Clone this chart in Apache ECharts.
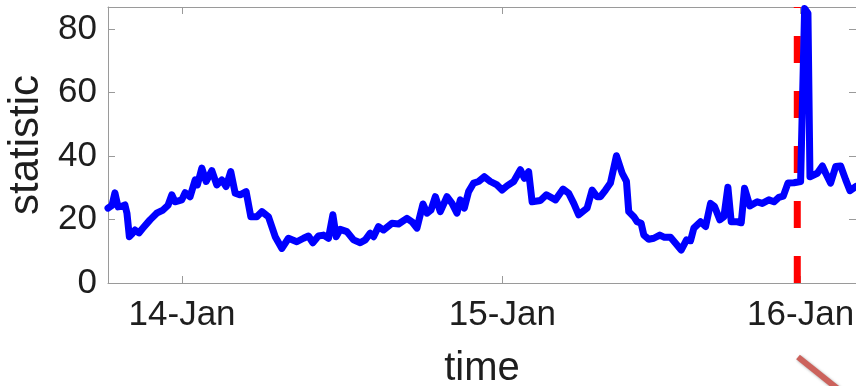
<!DOCTYPE html>
<html>
<head>
<meta charset="utf-8">
<script src="https://cdn.jsdelivr.net/npm/echarts@6/dist/echarts.min.js"></script>
<style>
  html, body { margin: 0; padding: 0; background: #fff; }
  #chart { width: 856px; height: 386px; }
</style>
</head>
<body>
<div id="chart"></div>
<script>
// hours since 14-Jan 00:00
var hours = [-5.55, -5.25, -5.03, -4.8, -4.5, -4.28, -4.13, -3.95, -3.75, -3.53, -3.23, -2.93, -2.4, -1.9, -1.43, -1.05, -0.77, -0.53, -0.02,
  0.23, 0.6, 0.98, 1.15, 1.48, 1.8, 2.23, 2.6, 2.98, 3.3, 3.65, 3.98, 4.35, 4.8, 5.15, 5.6, 5.98, 6.47, 6.98, 7.48, 7.97,
  8.6, 9.1, 9.47, 9.8, 10.22, 10.6, 10.97, 11.3, 11.55, 11.85, 12.35, 12.85, 13.35, 13.73, 14.1, 14.35, 14.72, 15.1, 15.73, 16.22,
  16.85, 17.23, 17.6, 18.05, 18.35, 18.65, 18.98, 19.35, 19.85, 20.23, 20.6, 20.85, 21.15, 21.47, 21.85, 22.22, 22.65, 23.1, 23.6, 23.98,
  24.35, 24.85, 25.35, 25.65, 25.97, 26.23, 26.85, 27.3, 27.98, 28.55, 28.97, 29.35, 29.72, 30.35, 30.73, 31.1, 31.35, 31.73, 32.1, 32.55,
  32.98, 33.3, 33.47, 33.85, 34.1, 34.4, 34.6, 34.97, 35.35, 35.8, 36.15, 36.6, 36.98, 37.4, 37.8, 38.1, 38.35, 38.85, 39.23, 39.6,
  39.9, 40.3, 40.6, 40.9, 41.15, 41.6, 41.9, 42.15, 42.55, 43.1, 43.48, 43.97, 44.35, 44.72, 45.05, 45.4, 45.85, 46.35, 46.65, 46.9,
  47.05, 47.6, 47.98, 48.23, 48.6, 48.98, 49.35, 49.73, 50.05, 50.48];
var statistic = [23.6, 24.5, 28.4, 24.0, 24.2, 24.6, 22, 14.6, 15.5, 16.7, 15.8, 17.3, 19.9, 22, 23, 24.5, 27.8, 25.6, 26.2,
  28.5, 27.2, 32.5, 30.9, 36.2, 32, 35.4, 30.9, 32.5, 30.4, 35.1, 28.3, 27.8, 28.8, 20.9, 20.9, 22.5, 20.9, 14.6, 10.9, 14.1,
  13, 14.1, 14.8, 12.7, 14.8, 15.1, 14.1, 21.5, 14.6, 16.9, 16.2, 13.6, 12.7, 13.6, 15.7, 14.6, 17.8, 16.7, 18.8, 18.6,
  20.4, 19.3, 17.3, 24.9, 22, 23, 27.2, 22.5, 27.2, 25.1, 22, 26.2, 23.6, 28.8, 31.5, 32, 33.5, 32, 30.9, 29.3,
  30.6, 32, 35.7, 33, 35.1, 25.6, 26, 27.8, 26.2, 29.6, 28.3, 25.1, 21.5, 23.6, 29.3, 27.2, 27.2, 29.3, 31.5, 40.1,
  34.6, 32, 22.5, 20.9, 19.3, 18.8, 15.1, 13.8, 14.1, 15.1, 14.4, 14.4, 12.5, 10.4, 13.6, 13.3, 17.3, 19.3, 17.8, 25.1,
  24.1, 19.9, 20.9, 30.2, 19.3, 19.3, 19, 29.9, 24.3, 25.6, 25.1, 26.2, 25.6, 27, 27.4, 31.5, 31.6, 32, 86.5, 85,
  33.5, 34.6, 36.9, 34.6, 31.5, 36.7, 36.9, 32.5, 29.1, 30.4];

var dayTicks = [0, 24, 46.35];
var dayLabels = ['14-Jan', '15-Jan', '16-Jan'];
var yTicks = [0, 20, 40, 60, 80];
var changePoint = 46.1;

var FONT = 'Liberation Sans';
var AXIS = '#9a9a9a';
var TEXT = '#1e1e1e';

var lineData = hours.map(function (h, i) { return [h, statistic[i]]; });

function boxAxis(pos, min, max, ticks) {
  return {
    type: 'value', position: pos, min: min, max: max,
    axisLine: { show: true, onZero: false, lineStyle: { color: AXIS, width: 1 } },
    axisTick: { show: true, inside: true, length: 7, customValues: ticks, lineStyle: { color: AXIS } },
    axisLabel: { show: false },
    splitLine: { show: false }
  };
}

var xBottom = boxAxis('bottom', -5.55, 50.5, dayTicks);
xBottom.name = 'time';
xBottom.nameLocation = 'middle';
xBottom.nameGap = 66;
xBottom.nameTextStyle = { fontFamily: FONT, fontSize: 40, color: TEXT };
xBottom.axisLabel = {
  show: true, customValues: dayTicks, margin: 15, fontFamily: FONT, fontSize: 35, color: TEXT,
  formatter: function (v) { var i = dayTicks.indexOf(v); return i < 0 ? '' : dayLabels[i]; }
};

var yLeft = boxAxis('left', 0, 87, yTicks);
yLeft.name = 'statistic';
yLeft.nameLocation = 'middle';
yLeft.nameGap = 48;
yLeft.nameTextStyle = { fontFamily: FONT, fontSize: 42, color: TEXT };
yLeft.axisLabel = { show: true, customValues: yTicks, margin: 11, fontFamily: FONT, fontSize: 35, color: TEXT };

var chart = echarts.init(document.getElementById('chart'));
chart.setOption({
  animation: false,
  backgroundColor: '#fff',
  grid: { left: 108, right: 0, top: 7, bottom: 103, containLabel: false, outerBoundsMode: 'none' },
  xAxis: [xBottom, boxAxis('top', -5.55, 50.5, dayTicks)],
  yAxis: [yLeft, boxAxis('right', 0, 87, yTicks)],
  series: [{
    name: 'change',
    type: 'line',
    xAxisIndex: 0, yAxisIndex: 0,
    data: [[changePoint, 0], [changePoint, 87]],
    showSymbol: false, symbol: 'none',
    lineStyle: { color: '#ff0000', width: 7, type: [27, 28], cap: 'butt' },
    silent: true
  }, {
    name: 'statistic',
    type: 'line',
    xAxisIndex: 0, yAxisIndex: 0,
    data: lineData,
    showSymbol: false, symbol: 'none',
    clip: false,
    lineStyle: { color: '#0000ff', width: 7, join: 'round', cap: 'round' },
    silent: true
  }],
  graphic: [{
    type: 'line',
    shape: { x1: 798, y1: 357, x2: 838, y2: 389 },
    style: { stroke: '#cc625c', lineWidth: 6, shadowBlur: 3, shadowColor: 'rgba(0,0,0,0.35)', shadowOffsetX: 1, shadowOffsetY: 1 }
  }]
});
</script>
</body>
</html>
